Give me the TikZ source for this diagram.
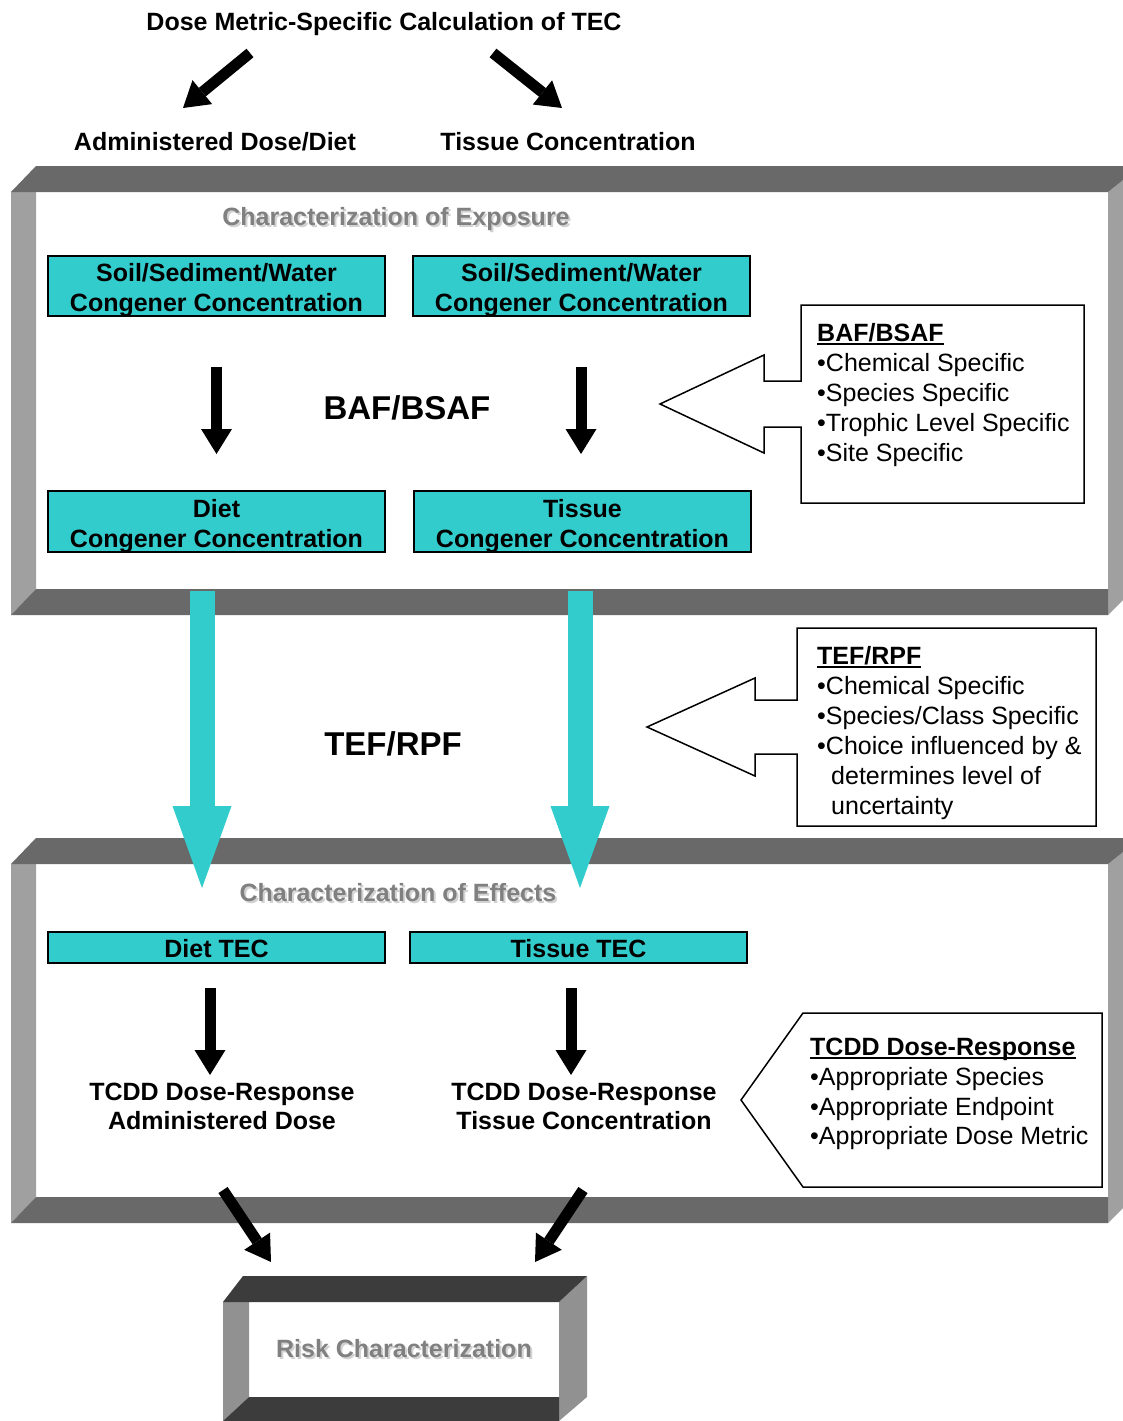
\documentclass[tikz,border=0pt]{standalone}
\usepackage{fontspec}
\setmainfont{Liberation Sans}
\usetikzlibrary{arrows.meta}
\definecolor{tealc}{HTML}{33CCCC}
\definecolor{darkband}{HTML}{696969}
\definecolor{lightband}{HTML}{A0A0A0}
\definecolor{riskdark}{HTML}{3C3C3C}
\definecolor{risklight}{HTML}{919191}
\definecolor{greytext}{HTML}{808080}
\definecolor{shadowc}{HTML}{D2D2D2}
\newcommand\ulx[1]{\setbox0\hbox{#1}\rlap{\rule[-3.5pt]{\wd0}{1.8pt}}\box0}
\begin{document}
\begin{tikzpicture}[x=1pt,y=-1pt,
  txt/.style={inner sep=0pt, font=\fontsize{25}{30}\selectfont},
  btxt/.style={inner sep=0pt, font=\fontsize{25}{30}\selectfont\bfseries},
  bigtxt/.style={inner sep=0pt, font=\fontsize{33}{36}\selectfont\bfseries},
  greyt/.style={btxt, text=greytext},
  shadowt/.style={btxt, text=shadowc},
  cbox/.style={draw=black, line width=1.3pt, fill=tealc, inner sep=0pt, minimum width=337pt},
  callout/.style={draw=black, line width=1.5pt, fill=white, line join=miter},
  blackarrow/.style={line width=11pt, -{Triangle[length=25pt,width=31pt,line width=0pt]}},
  cyanarrow/.style={tealc, line width=25pt, -{Triangle[length=82pt,width=59pt,line width=0pt]}}
]
\useasboundingbox (0,0) rectangle (1123,1421);
\fill[white] (0,0) rectangle (1123,1421);

% ---------- top title and labels ----------
\node[btxt, anchor=base] (title) at (384,31) {Dose Metric-Specific Calculation of TEC};
\node[btxt, anchor=base] (admin) at (215,150) {Administered Dose/Diet};
\node[btxt, anchor=base] (tissueC) at (568,150) {Tissue Concentration};
\coordinate (ta1) at (250,53);  \coordinate (ta2) at (183,108);
\coordinate (tb1) at (493,53);  \coordinate (tb2) at (562,108);
\draw[blackarrow] (ta1) -- (ta2);
\draw[blackarrow] (tb1) -- (tb2);

% ---------- exposure frame ----------
\fill[lightband] (11,192) -- (36,192) -- (36,589) -- (11,615) -- cycle;
\fill[lightband] (1108,192) -- (1123,180) -- (1123,600) -- (1108,615) -- cycle;
\fill[darkband] (36,166) -- (1123,166) -- (1123,180) -- (1108,192) -- (11,192) -- cycle;
\fill[darkband] (36,589) -- (1108,589) -- (1108,615) -- (11,615) -- cycle;

\node[shadowt, anchor=base] (expS) at (398,227) {Characterization of Exposure};
\node[greyt, anchor=base] (exp) at (396,225) {Characterization of Exposure};

\node[cbox, minimum height=60pt] (b1) at (216.5,286) {};
\node[btxt, anchor=base] (b1t1) at (216.5,281) {Soil/Sediment/Water};
\node[btxt, anchor=base] (b1t2) at (216.5,311) {Congener Concentration};
\node[cbox, minimum height=60pt] (b2) at (581.5,286) {};
\node[btxt, anchor=base] (b2t1) at (581.5,281) {Soil/Sediment/Water};
\node[btxt, anchor=base] (b2t2) at (581.5,311) {Congener Concentration};
\node[cbox, minimum height=61pt] (b3) at (216.5,521.5) {};
\node[btxt, anchor=base] (b3t1) at (216.5,517) {Diet};
\node[btxt, anchor=base] (b3t2) at (216.5,547) {Congener Concentration};
\node[cbox, minimum height=61pt] (b4) at (582.5,521.5) {};
\node[btxt, anchor=base] (b4t1) at (582.5,517) {Tissue};
\node[btxt, anchor=base] (b4t2) at (582.5,547) {Congener Concentration};

\coordinate (e1a) at (216.5,367); \coordinate (e1b) at (216.5,454);
\coordinate (e2a) at (581,367);   \coordinate (e2b) at (581,454);
\draw[blackarrow] (e1a) -- (e1b);
\draw[blackarrow] (e2a) -- (e2b);
\node[bigtxt, anchor=base] (baf) at (407,419) {BAF/BSAF};

% BAF callout
\draw[callout] (801,305) -- (1084,305) -- (1084,503) -- (801,503) -- (801,427) -- (764,427)
  -- (764,453) -- (660,404) -- (764,355) -- (764,381) -- (801,381) -- cycle;
\node[btxt, anchor=base west] (bafh) at (817,341) {\ulx{BAF/BSAF}};
\node[txt, anchor=base west] (baf1) at (817,371) {•Chemical Specific};
\node[txt, anchor=base west] (baf2) at (817,401) {•Species Specific};
\node[txt, anchor=base west] (baf3) at (817,431) {•Trophic Level Specific};
\node[txt, anchor=base west] (baf4) at (817,461) {•Site Specific};

% ---------- TEF/RPF ----------
\node[bigtxt, anchor=base] (tef) at (393,755) {TEF/RPF};
\draw[callout] (797,628) -- (1096,628) -- (1096,826) -- (797,826) -- (797,754) -- (755,754)
  -- (755,776) -- (647,727) -- (755,678) -- (755,700) -- (797,700) -- cycle;
\node[btxt, anchor=base west] (tefh) at (817,664) {\ulx{TEF/RPF}};
\node[txt, anchor=base west] (tef1) at (817,694) {•Chemical Specific};
\node[txt, anchor=base west] (tef2) at (817,724) {•Species/Class Specific};
\node[txt, anchor=base west] (tef3) at (817,754) {•Choice influenced by \&};
\node[txt, anchor=base west] (tef4) at (831,784) {determines level of};
\node[txt, anchor=base west] (tef5) at (831,814) {uncertainty};

% ---------- effects frame ----------
\fill[lightband] (11,864) -- (36,864) -- (36,1197) -- (11,1223) -- cycle;
\fill[lightband] (1108,864) -- (1123,852) -- (1123,1208) -- (1108,1223) -- cycle;
\fill[darkband] (36,838) -- (1123,838) -- (1123,852) -- (1108,864) -- (11,864) -- cycle;
\fill[darkband] (36,1197) -- (1108,1197) -- (1108,1223) -- (11,1223) -- cycle;

\node[shadowt, anchor=base] (effS) at (400,903) {Characterization of Effects};
\node[greyt, anchor=base] (eff) at (398,901) {Characterization of Effects};

\node[cbox, minimum height=31pt] (b5) at (216.5,947.5) {};
\node[btxt, anchor=base] (b5t) at (216.5,957) {Diet TEC};
\node[cbox, minimum height=31pt] (b6) at (578.5,947.5) {};
\node[btxt, anchor=base] (b6t) at (578.5,957) {Tissue TEC};

\coordinate (f1a) at (210,988); \coordinate (f1b) at (210,1075);
\coordinate (f2a) at (571,988); \coordinate (f2b) at (571,1075);
\draw[blackarrow] (f1a) -- (f1b);
\draw[blackarrow] (f2a) -- (f2b);

\node[btxt, anchor=base] (dr1) at (222,1100) {TCDD Dose-Response};
\node[btxt, anchor=base] (dr1b) at (222,1129) {Administered Dose};
\node[btxt, anchor=base] (dr2) at (584,1100) {TCDD Dose-Response};
\node[btxt, anchor=base] (dr2b) at (584,1129) {Tissue Concentration};

% TCDD callout
\draw[callout] (803,1013) -- (1102,1013) -- (1102,1187) -- (803,1187) -- (741,1100) -- cycle;
\node[btxt, anchor=base west] (tch) at (810,1055) {\ulx{TCDD Dose-Response}};
\node[txt, anchor=base west] (tc1) at (810,1085) {•Appropriate Species};
\node[txt, anchor=base west] (tc2) at (810,1115) {•Appropriate Endpoint};
\node[txt, anchor=base west] (tc3) at (810,1144) {•Appropriate Dose Metric};

% ---------- cyan TEF arrows ----------
\coordinate (c1a) at (202,591); \coordinate (c1b) at (202,888);
\coordinate (c2a) at (580,591); \coordinate (c2b) at (580,888);
\draw[cyanarrow] (c1a) -- (c1b);
\draw[cyanarrow] (c2a) -- (c2b);

% ---------- bottom arrows ----------
\coordinate (g1a) at (223,1190); \coordinate (g1b) at (271,1262);
\coordinate (g2a) at (583,1190); \coordinate (g2b) at (535,1262);
\draw[blackarrow] (g1a) -- (g1b);
\draw[blackarrow] (g2a) -- (g2b);

% ---------- risk characterization box ----------
\fill[risklight] (223,1302) -- (249,1302) -- (249,1397) -- (223,1421) -- cycle;
\fill[risklight] (559,1302) -- (587,1276) -- (587,1397) -- (559,1421) -- cycle;
\fill[riskdark] (243,1276) -- (587,1276) -- (559,1302) -- (223,1302) -- cycle;
\fill[riskdark] (249,1397) -- (559,1397) -- (559,1421) -- (223,1421) -- cycle;
\node[shadowt, anchor=base] (riskS) at (406,1359) {Risk Characterization};
\node[greyt, anchor=base] (risk) at (404,1357) {Risk Characterization};
\end{tikzpicture}
\end{document}
